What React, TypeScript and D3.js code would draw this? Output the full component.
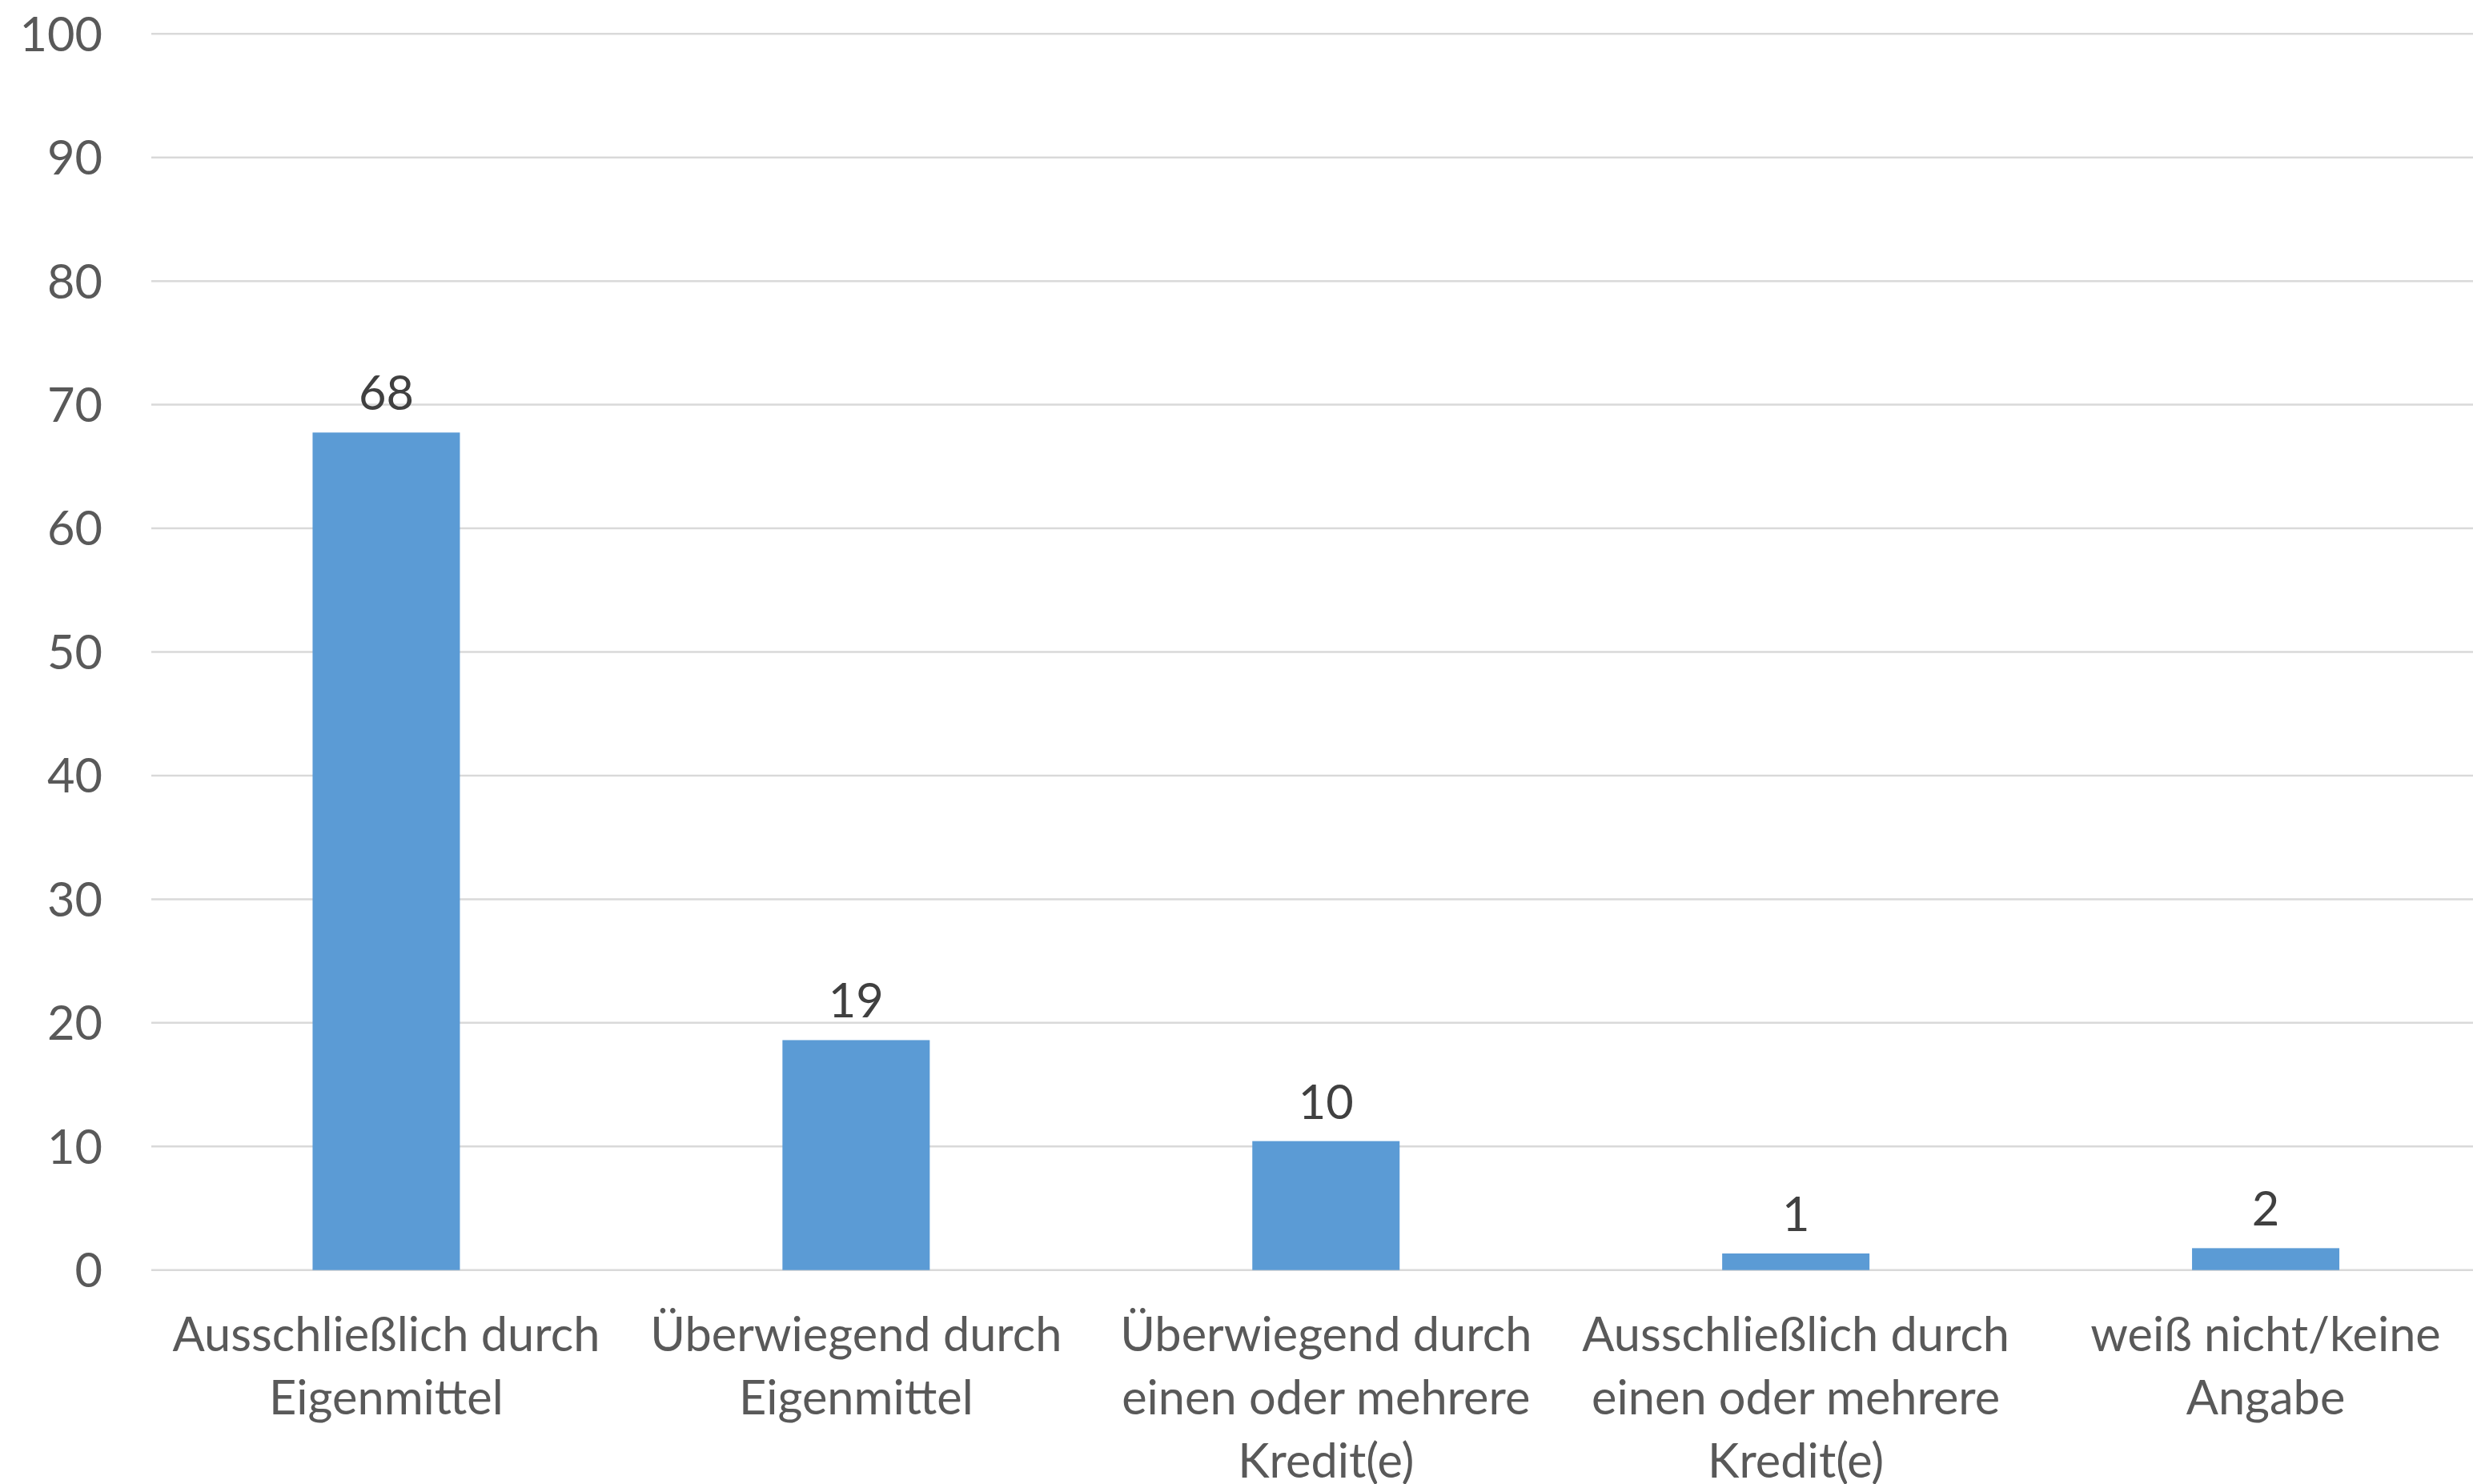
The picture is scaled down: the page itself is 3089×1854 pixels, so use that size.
import React from "react";
import * as d3 from "d3";

const categories: string[][] = [
  ["Ausschließlich durch", "Eigenmittel"],
  ["Überwiegend durch", "Eigenmittel"],
  ["Überwiegend durch", "einen oder mehrere", "Kredit(e)"],
  ["Ausschließlich durch", "einen oder mehrere", "Kredit(e)"],
  ["weiß nicht/keine", "Angabe"],
];
const values: number[] = [67.75, 18.6, 10.43, 1.34, 1.77];
const valueLabels: string[] = ["68", "19", "10", "1", "2"];
const yTicks: number[] = [0, 10, 20, 30, 40, 50, 60, 70, 80, 90, 100];

const W = 3089;
const H = 1854;
const FONT = "Lato, 'Open Sans', sans-serif";
const FS = 59.5;

export default function App() {
  const keys = categories.map((_, i) => String(i));
  const x = d3.scaleBand<string>().domain(keys).range([189, 189 + 586.9 * 5]).paddingInner(0).paddingOuter(0);
  const y = d3.scaleLinear().domain([0, 100]).range([1586.7, 42.3]);
  const barW = x.bandwidth() * 0.3135;

  return (
    <svg width={W} height={H} style={{ position: "absolute", left: 0, top: 0, background: "#fff" }}>
      <rect x={0} y={0} width={W} height={H} fill="#fff" />
      {yTicks.map((t) => (
        <g key={t}>
          <line x1={x.range()[0]} x2={x.range()[1]} y1={y(t)} y2={y(t)} stroke="#D9D9D9" strokeWidth={2.5} />
          <text x={128} y={y(t)} dy="0.36em" textAnchor="end" fontFamily={FONT} fontSize={FS} fill="#595959">
            {t}
          </text>
        </g>
      ))}
      {values.map((v, i) => {
        const cx = (x(String(i)) as number) + x.bandwidth() / 2;
        return (
          <g key={i}>
            <rect x={cx - barW / 2} y={y(v)} width={barW} height={y(0) - y(v)} fill="#5B9BD5" />
            <text x={cx} y={y(v) - 28} textAnchor="middle" fontFamily={FONT} fontSize={FS} fill="#404040">
              {valueLabels[i]}
            </text>
            {categories[i].map((line, j) => (
              <text key={j} x={cx} y={1688 + j * 79} textAnchor="middle" fontFamily={FONT} fontSize={FS} fill="#595959">
                {line}
              </text>
            ))}
          </g>
        );
      })}
    </svg>
  );
}
